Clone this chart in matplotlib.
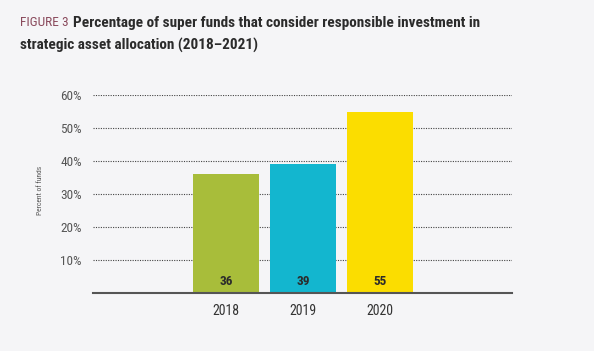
import matplotlib
matplotlib.use("Agg")
import matplotlib.pyplot as plt

years = ["2018", "2019", "2020"]
percent = [36, 39, 55]
bar_colors = ["#a8bd3a", "#13b6cf", "#fbdd00"]
yticks = [10, 20, 30, 40, 50, 60]

plt.rcParams["font.family"] = ["Roboto Condensed", "DejaVu Sans"]

bg = "#f5f5f7"
fig = plt.figure(figsize=(5.94, 3.51), dpi=100, facecolor=bg)
ax = fig.add_axes([93 / 594, 1 - 293 / 351, (512 - 93) / 594, (293 - 95) / 351])
ax.set_facecolor(bg)

x = range(len(years))
bars = ax.bar(x, percent, width=0.86, color=bar_colors, zorder=3)

# values sit at the foot of each bar
for b, v in zip(bars, percent):
    ax.text(b.get_x() + b.get_width() / 2, 1.5, str(v), ha="center", va="bottom",
            fontsize=9.5, fontweight="bold", color="#2b2b2b", zorder=4)

ax.set_xlim(-1.73, 3.71)
ax.set_ylim(0, 60)
ax.set_yticks(yticks)
ax.set_yticklabels([f"{t}%" for t in yticks], fontsize=9.5, color="#555555")
ax.set_xticks(list(x))
ax.set_xticklabels(years, fontsize=10, color="#333333")
ax.tick_params(axis="both", length=0)
ax.tick_params(axis="y", pad=8)
ax.tick_params(axis="x", pad=8)

ax.grid(axis="y", linestyle=(0, (1, 1.2)), color="#444444", linewidth=0.8, zorder=0)
for s in ["top", "right", "left"]:
    ax.spines[s].set_visible(False)
ax.spines["bottom"].set_color("#555555")
ax.spines["bottom"].set_linewidth(1.5)
ax.spines["bottom"].set_zorder(5)

fig.text(40 / 594, 1 - 190 / 351, "Percent of funds", rotation=90, ha="center", va="center",
         fontsize=5.4, color="#555555")

fig.text(20 / 594, 1 - 23 / 351, "FIGURE 3", fontsize=9.6, color="#8a4a5c",
         ha="left", va="center")
fig.text(73 / 594, 1 - 23 / 351, "Percentage of super funds that consider responsible investment in",
         fontsize=11, fontweight="bold", color="#2b2b2b", ha="left", va="center")
fig.text(20 / 594, 1 - 45 / 351, "strategic asset allocation (2018\u20132021)",
         fontsize=11, fontweight="bold", color="#2b2b2b", ha="left", va="center")

fig.savefig("out.png", dpi=100, facecolor=bg)
